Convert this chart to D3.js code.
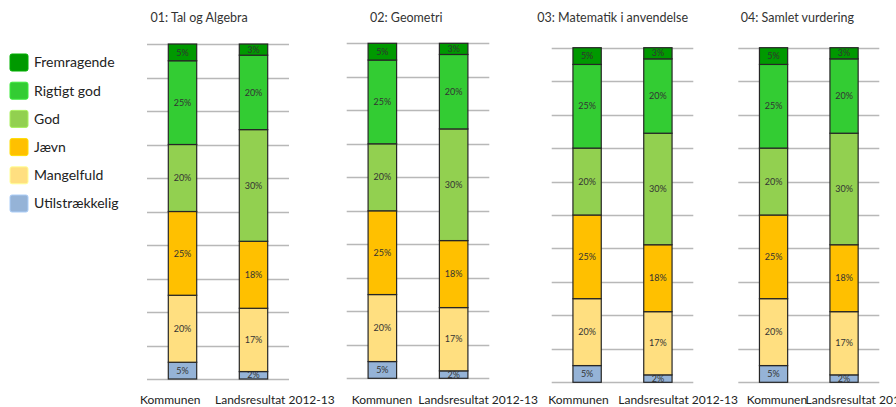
<!DOCTYPE html>
<html>
<head>
<meta charset="utf-8">
<script src="https://cdn.jsdelivr.net/npm/d3@7"></script>
<style>
  html, body { margin: 0; padding: 0; background: #fff; }
  svg { display: block; font-family: Lato, "Open Sans", sans-serif; }
</style>
</head>
<body>
<script>
// levels, bottom of the stack first
const levels = ["Utilstrækkelig", "Mangelfuld", "Jævn", "God", "Rigtigt god", "Fremragende"];
const colors = ["#95b3d7", "#ffdf80", "#ffc000", "#92d050", "#33cc33", "#009900"];
const groups = ["Kommunen", "Landsresultat 2012-13"];
const titles = ["01: Tal og Algebra", "02: Geometri", "03: Matematik i anvendelse", "04: Samlet vurdering"];

// percentages per panel, one array per group, in the order of levels
const kommunen = [
  [5, 20, 25, 20, 25, 5],
  [5, 20, 25, 20, 25, 5],
  [5, 20, 25, 20, 25, 5],
  [5, 20, 25, 20, 25, 5]
];
const landsresultat = [
  [2, 17, 18, 30, 20, 3],
  [2, 17, 18, 30, 20, 3],
  [2, 17, 18, 30, 20, 3],
  [2, 17, 18, 30, 20, 3]
];

// panel frames: grid left/right, top/bottom, title x, group label starts
const frames = [
  {x0: 147, x1: 289, top: 44, bottom: 379, tx: 150.5, lx: [140, 215]},
  {x0: 346.7, x1: 489.3, top: 43.3, bottom: 378.3, tx: 370, lx: [351.7, 418.3]},
  {x0: 551.7, x1: 693.3, top: 47.7, bottom: 382.3, tx: 537.3, lx: [548.3, 618.3]},
  {x0: 738.3, x1: 879.3, top: 47.7, bottom: 382.3, tx: 740.7, lx: [746.7, 805.5]}
];

const W = 896, H = 407;
const svg = d3.select("body").append("svg")
    .attr("width", W)
    .attr("height", H);

const color = d3.scaleOrdinal().domain(levels).range(colors);

const stack = d3.stack()
    .keys(levels)
    .offset(d3.stackOffsetExpand);

frames.forEach((f, p) => {
  const rows = groups.map((g, i) => {
    const vals = i === 0 ? kommunen[p] : landsresultat[p];
    const row = {group: g};
    levels.forEach((l, j) => row[l] = vals[j]);
    return row;
  });
  const series = stack(rows);

  const x = d3.scaleBand()
      .domain(groups)
      .range([f.x0, f.x1])
      .paddingInner(0.6)
      .paddingOuter(0.3);
  const y = d3.scaleLinear()
      .domain([0, 1])
      .range([f.bottom, f.top]);

  const g = svg.append("g");

  g.append("g")
      .attr("stroke", "#b8b8b8")
      .attr("stroke-width", 1.3)
    .selectAll("line")
    .data(y.ticks(10))
    .join("line")
      .attr("x1", f.x0)
      .attr("x2", f.x1)
      .attr("y1", d => Math.round(y(d)) + 0.5)
      .attr("y2", d => Math.round(y(d)) + 0.5);

  const layer = g.selectAll("g.layer")
    .data(series)
    .join("g")
      .attr("class", "layer")
      .attr("fill", d => color(d.key));

  layer.selectAll("rect")
    .data(d => d)
    .join("rect")
      .attr("x", d => x(d.data.group))
      .attr("y", d => y(d[1]))
      .attr("width", x.bandwidth())
      .attr("height", d => y(d[0]) - y(d[1]))
      .attr("stroke", "#262626")
      .attr("stroke-width", 1.2);

  layer.selectAll("text")
    .data(d => d.map(v => Object.assign(v, {key: d.key})))
    .join("text")
      .attr("x", d => x(d.data.group) + x.bandwidth() / 2)
      .attr("y", d => (y(d[0]) + y(d[1])) / 2)
      .attr("dy", "0.35em")
      .attr("text-anchor", "middle")
      .attr("fill", "#333")
      .attr("font-size", 9)
      .text(d => d.data[d.key] + "%");

  g.append("text")
      .attr("x", f.tx)
      .attr("y", 21.5)
      .attr("font-size", 12.5)
      .attr("fill", "#333")
      .text(titles[p]);

  g.selectAll("text.grp")
    .data(groups)
    .join("text")
      .attr("class", "grp")
      .attr("x", (d, i) => f.lx[i])
      .attr("y", 404)
      .attr("font-size", 12)
      .attr("fill", "#222")
      .text(d => d);
});

// legend, top level first
const legend = svg.append("g")
  .selectAll("g")
  .data(levels.slice().reverse())
  .join("g")
    .attr("transform", (d, i) => `translate(10,${54 + i * 28.2})`);

legend.append("rect")
    .attr("width", 18)
    .attr("height", 17)
    .attr("rx", 2)
    .attr("fill", d => color(d))
    .attr("stroke", d => d3.color(color(d)).brighter(0.4))
    .attr("stroke-width", 1);

legend.append("text")
    .attr("x", 24)
    .attr("y", 8.5)
    .attr("dy", "0.35em")
    .attr("font-size", 14)
    .attr("fill", "#222")
    .text(d => d);
</script>
</body>
</html>
